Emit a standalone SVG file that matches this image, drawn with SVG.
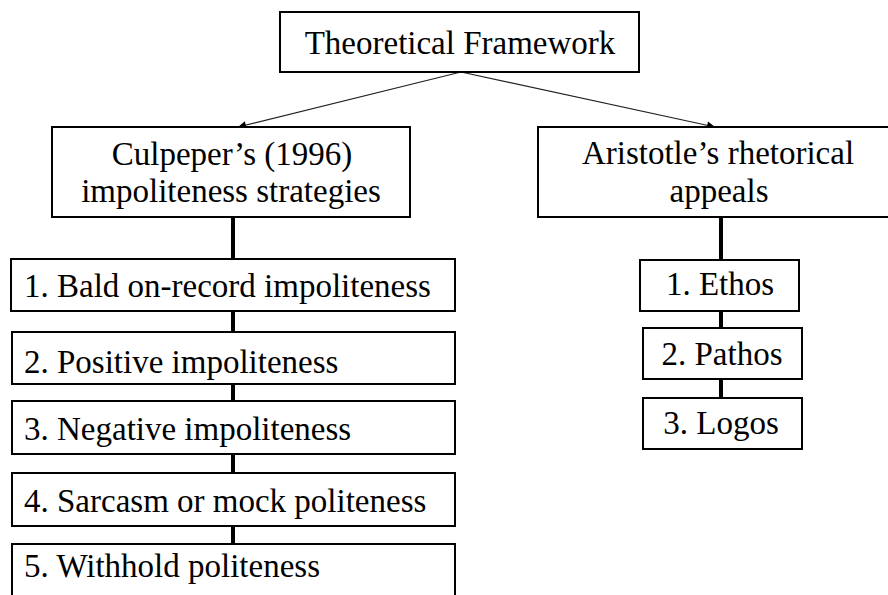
<svg xmlns="http://www.w3.org/2000/svg" width="888" height="595" viewBox="0 0 888 595">
<style>
.box{fill:#fff;stroke:#000;stroke-width:2}
.arrow{stroke:#222;stroke-width:1.2;fill:none}
.conn{stroke:#000;stroke-width:4;fill:none}
</style>
<defs>
<marker id="ah" viewBox="0 0 10 10" refX="10" refY="5" markerWidth="10" markerHeight="8" markerUnits="userSpaceOnUse" orient="auto">
<path d="M0,0 L10,5 L0,10 z" fill="#000"/>
</marker>
</defs>
<rect width="888" height="595" fill="#fff"/>
<g id="connectors">
<line class="arrow" x1="461" y1="72" x2="238" y2="127" marker-end="url(#ah)"/>
<line class="arrow" x1="461" y1="72" x2="715" y2="127" marker-end="url(#ah)"/>
<line class="conn" x1="233" y1="217" x2="233" y2="259"/>
<line class="conn" x1="233" y1="311" x2="233" y2="332"/>
<line class="conn" x1="233" y1="384" x2="233" y2="401"/>
<line class="conn" x1="233" y1="454" x2="233" y2="473"/>
<line class="conn" x1="233" y1="526" x2="233" y2="544"/>
<line class="conn" x1="721" y1="217" x2="721" y2="260"/>
<line class="conn" x1="721" y1="311" x2="721" y2="328"/>
<line class="conn" x1="721" y1="379" x2="721" y2="398"/>
</g>
<g id="theoretical-framework">
<rect class="box" x="280" y="12" width="359" height="60"/>
<text x="460" y="54" font-size="33" font-family="Liberation Serif" text-anchor="middle">Theoretical Framework</text>
</g>
<g id="culpeper">
<rect class="box" x="52" y="127" width="358" height="90"/>
<text x="232" y="165" font-size="33" font-family="Liberation Serif" text-anchor="middle">Culpeper’s (1996)</text>
<text x="231" y="202" font-size="33" font-family="Liberation Serif" text-anchor="middle">impoliteness strategies</text>
</g>
<g id="aristotle">
<rect class="box" x="538" y="127" width="362" height="90"/>
<text x="718" y="164" font-size="33" font-family="Liberation Serif" text-anchor="middle">Aristotle’s rhetorical</text>
<text x="719" y="202" font-size="33" font-family="Liberation Serif" text-anchor="middle">appeals</text>
</g>
<g id="s1">
<rect class="box" x="11" y="259" width="444" height="52"/>
<text x="24" y="297" font-size="33" font-family="Liberation Serif">1. Bald on-record impoliteness</text>
</g>
<g id="s2">
<rect class="box" x="12" y="332" width="443" height="52"/>
<text x="24" y="373" font-size="33" font-family="Liberation Serif">2. Positive impoliteness</text>
</g>
<g id="s3">
<rect class="box" x="12" y="401" width="443" height="53"/>
<text x="24" y="440" font-size="33" font-family="Liberation Serif">3. Negative impoliteness</text>
</g>
<g id="s4">
<rect class="box" x="12" y="473" width="443" height="53"/>
<text x="24" y="512" font-size="33" font-family="Liberation Serif">4. Sarcasm or mock politeness</text>
</g>
<g id="s5">
<rect class="box" x="12" y="544" width="443" height="60"/>
<text x="24" y="577" font-size="33" font-family="Liberation Serif">5. Withhold politeness</text>
</g>
<g id="ethos">
<rect class="box" x="640" y="260" width="159" height="51"/>
<text x="720" y="295" font-size="33" font-family="Liberation Serif" text-anchor="middle">1. Ethos</text>
</g>
<g id="pathos">
<rect class="box" x="643" y="328" width="159" height="51"/>
<text x="722" y="365" font-size="33" font-family="Liberation Serif" text-anchor="middle">2. Pathos</text>
</g>
<g id="logos">
<rect class="box" x="643" y="398" width="159" height="51"/>
<text x="721" y="434" font-size="33" font-family="Liberation Serif" text-anchor="middle">3. Logos</text>
</g>
</svg>
